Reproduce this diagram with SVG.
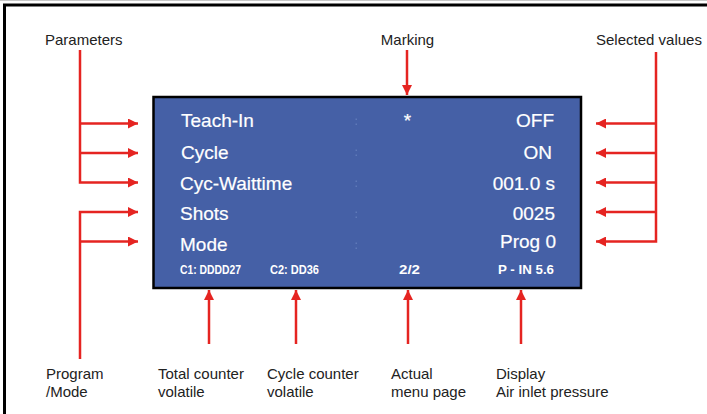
<svg xmlns="http://www.w3.org/2000/svg" width="707" height="414" viewBox="0 0 707 414">
<style>
.lbl{font-family:"Liberation Sans",Arial,sans-serif;font-size:15px;fill:#222;}
.disp{font-family:"Liberation Sans",Arial,sans-serif;font-size:19px;fill:#fff;stroke:#fff;stroke-width:0.2;}
.small{font-family:"Liberation Sans",Arial,sans-serif;font-size:13.5px;font-weight:bold;fill:#fff;}
.con{fill:none;stroke:#e52421;stroke-width:2.5;marker-end:url(#ah);}
.dot{fill:#5f79b8;}
</style>
<defs>
<marker id="ah" viewBox="0 0 10 10" markerWidth="10" markerHeight="10" markerUnits="userSpaceOnUse" refX="10" refY="5" orient="auto">
<path d="M0,0 L10,5 L0,10 z" fill="#e52421"/>
</marker>
</defs>
<rect x="0" y="0" width="707" height="414" fill="#fff"/>
<line x1="0" y1="0.5" x2="707" y2="0.5" stroke="#c8c8c8" stroke-width="1"/>
<g id="frame" stroke="#000" stroke-width="3" fill="none">
<path d="M4.5,414 V5 H707"/>
</g>
<g id="display">
<rect x="153.5" y="97" width="427.5" height="191" fill="#4560a6" stroke="#000" stroke-width="2.5"/>
<text class="disp" x="181" y="127">Teach-In</text>
<text class="disp" x="181" y="158.5">Cycle</text>
<text class="disp" x="180" y="189.5">Cyc-Waittime</text>
<text class="disp" x="180" y="220">Shots</text>
<text class="disp" x="180" y="251">Mode</text>
<text class="disp" x="407.5" y="127" text-anchor="middle">*</text>
<text class="disp" x="554" y="127" text-anchor="end">OFF</text>
<text class="disp" x="552" y="158.5" text-anchor="end">ON</text>
<text class="disp" x="555" y="189.5" text-anchor="end">001.0 s</text>
<text class="disp" x="555" y="220" text-anchor="end">0025</text>
<text class="disp" x="556" y="247.5" text-anchor="end">Prog 0</text>
<g class="dot">
<rect x="355.5" y="118.5" width="1.5" height="1.5"/><rect x="355.5" y="123.5" width="1.5" height="1.5"/>
<rect x="355.5" y="149.5" width="1.5" height="1.5"/><rect x="355.5" y="154.5" width="1.5" height="1.5"/>
<rect x="355.5" y="180.5" width="1.5" height="1.5"/><rect x="355.5" y="185.5" width="1.5" height="1.5"/>
<rect x="355.5" y="211.5" width="1.5" height="1.5"/><rect x="355.5" y="216.5" width="1.5" height="1.5"/>
<rect x="355.5" y="242.5" width="1.5" height="1.5"/><rect x="355.5" y="247.5" width="1.5" height="1.5"/>
</g>
<text class="small" x="180" y="274" textLength="61" lengthAdjust="spacingAndGlyphs">C1: DDDD27</text>
<text class="small" x="270" y="274" textLength="49" lengthAdjust="spacingAndGlyphs">C2: DD36</text>
<text class="small" x="399" y="274" textLength="21" lengthAdjust="spacingAndGlyphs">2/2</text>
<text class="small" x="498" y="274" textLength="56" lengthAdjust="spacingAndGlyphs">P - IN 5.6</text>
</g>
<g id="parameters"><text class="lbl" x="45" y="45">Parameters</text></g>
<g id="marking"><text class="lbl" x="407.5" y="45" text-anchor="middle">Marking</text></g>
<g id="selected-values"><text class="lbl" x="596" y="45">Selected values</text></g>
<g id="program-mode"><text class="lbl" x="46" y="379">Program</text><text class="lbl" x="46" y="397">/Mode</text></g>
<g id="total-counter"><text class="lbl" x="158" y="379">Total counter</text><text class="lbl" x="158" y="397">volatile</text></g>
<g id="cycle-counter"><text class="lbl" x="267" y="379">Cycle counter</text><text class="lbl" x="267" y="397">volatile</text></g>
<g id="menu-page"><text class="lbl" x="391" y="379">Actual</text><text class="lbl" x="391" y="397">menu page</text></g>
<g id="air-pressure"><text class="lbl" x="496" y="379">Display</text><text class="lbl" x="496" y="397">Air inlet pressure</text></g>
<g id="connectors">
<path class="con" d="M80,50 V182.5 H138"/>
<path class="con" d="M80,123.5 H138"/>
<path class="con" d="M80,153 H138"/>
<path class="con" d="M80,359 V212 H138"/>
<path class="con" d="M80,241.5 H138"/>
<path class="con" d="M656,52 V241.5 H596"/>
<path class="con" d="M656,123.5 H596"/>
<path class="con" d="M656,153 H596"/>
<path class="con" d="M656,182.5 H596"/>
<path class="con" d="M656,212 H596"/>
<path class="con" d="M407,50 V95"/>
<path class="con" d="M209,344 V290"/>
<path class="con" d="M296,344 V290"/>
<path class="con" d="M408,344 V290"/>
<path class="con" d="M521,344 V290"/>
</g>
</svg>
